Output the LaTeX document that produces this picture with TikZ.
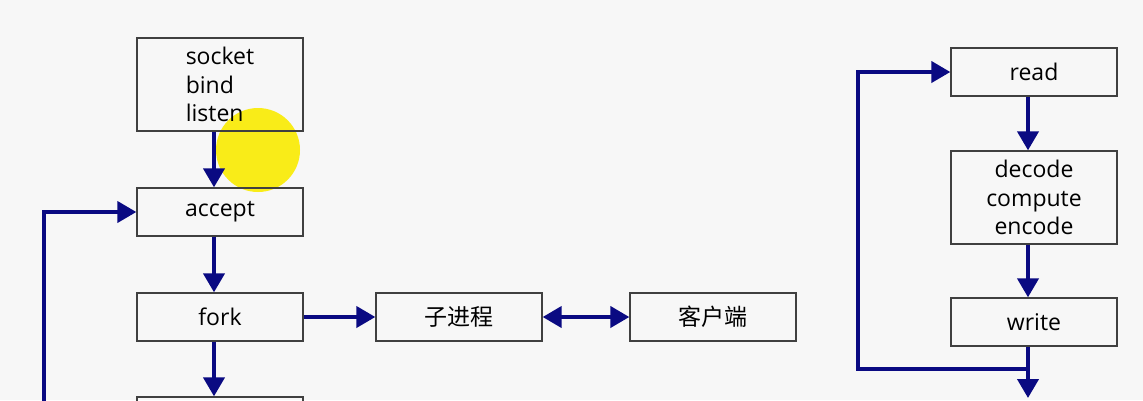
\documentclass[tikz,border=0pt]{standalone}
\usepackage{fontspec}
\setmainfont{Open Sans}
\newfontfamily\cjk{Noto Sans CJK SC}
\usetikzlibrary{arrows.meta}
\pgfdeclarelayer{background}
\pgfsetlayers{background,main}
\definecolor{navy}{RGB}{10,10,130}
\definecolor{paper}{RGB}{247,247,247}
\definecolor{cursor}{RGB}{250,235,0}
\tikzstyle{box} = [draw=black!75, line width=1.3pt, minimum width=166pt, minimum height=48pt, inner sep=0pt, font=\fontsize{23}{28.5}\selectfont]
\tikzstyle{tall box} = [box, minimum height=93pt]
\tikzstyle{flow} = [draw=navy, line width=4pt, -{Triangle[length=19pt,width=21pt]}]
\tikzstyle{both flow} = [flow, {Triangle[length=19pt,width=21pt]}-{Triangle[length=19pt,width=21pt]}]
\def\flowNodes{{(220,212)/accept/accept}, {(220,317)/fork/fork}, {(220,421)/next/}, {(459,317)/child/{\cjk 子进程}}, {(713,317)/client/{\cjk 客户端}}, {(1034,72)/read/read}, {(1034,322)/write/write}}
\def\down{sock/accept, accept/fork, fork/next, read/code, code/write}

\begin{document}
\begin{tikzpicture}[x=1pt, y=-1pt]

  \useasboundingbox (0,0) rectangle (1143,400);
  \clip (0,0) rectangle (1143,400);

  \node[tall box, align=left] (sock) at (220,84.5) {socket\\bind\\listen};
  \node[tall box, align=center] (code) at (1034,197.5) {decode\\compute\\encode};

  \foreach \pos/\name/\txt in \flowNodes {
    \node[box] (\name) at \pos {\txt};
    }

  \foreach \source/\sink in \down {
    \path[flow] ([xshift=-6pt]\source.south) -- ([xshift=-6pt]\sink.north);
    }

  \path[flow] (fork) -- (child);
  \path[both flow] (child) -- (client);

  % loops back to accept and read
  \coordinate (lback) at (44,410);
  \coordinate (rback) at (858,369);
  \coordinate (out) at (1028,398);
  \path[flow] (lback) |- (accept.west);
  \path[flow] ([xshift=-6pt]write.south) -- (out);
  \path[flow] (out |- rback) -- (rback) |- (read.west);

  \begin{pgfonlayer}{background}
    \fill[paper] (0,0) rectangle (1143,400);
    \fill[cursor, opacity=0.9] (258,150) circle (42);
  \end{pgfonlayer}

\end{tikzpicture}
\end{document}
